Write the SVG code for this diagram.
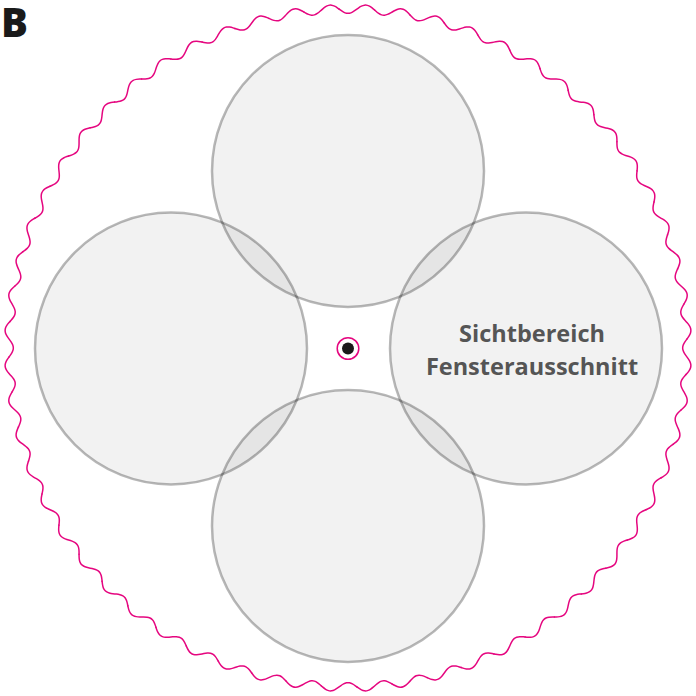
<svg xmlns="http://www.w3.org/2000/svg" xmlns:xlink="http://www.w3.org/1999/xlink" width="696" height="696" viewBox="0 0 696 696">
<style>
.lens{fill:#000;fill-opacity:0.05;stroke:#000;stroke-opacity:0.28;stroke-width:2.5}
.wave{fill:none;stroke:#e5067f;stroke-width:1.5;stroke-linejoin:round;stroke-linecap:round}
.lbl{font-family:"Open Sans","Liberation Sans",sans-serif;font-weight:700;font-size:23.5px;fill:#555555;text-anchor:middle}
.title{font-family:"Open Sans","Liberation Sans",sans-serif;font-weight:800;font-size:40px;fill:#1a1a1a}
</style>
<defs>
<path id="seg" class="wave" d="M330.258,9.465 L331.785,10.518 Q333.311,11.570 334.808,12.336 Q336.305,13.101 337.775,13.358 Q339.244,13.615 340.698,13.282 Q342.152,12.948 343.607,12.106 Q345.061,11.263 346.531,10.132 Q348,9 349.489,7.882 Q350.978,6.763 352.481,5.959 Q353.984,5.155 355.488,4.887 Q356.992,4.618 358.480,4.965 Q359.967,5.312 361.426,6.194 Q362.885,7.075 364.314,8.270 L365.742,9.465"/>
</defs>
<rect width="696" height="696" fill="#ffffff"/>
<text id="label-B" class="title" x="1" y="37">B</text>
<g id="boundary" transform="rotate(1.5 348 348)">
<use xlink:href="#seg" href="#seg"/>
<use href="#seg" transform="rotate(6 348 348)"/>
<use href="#seg" transform="rotate(12 348 348)"/>
<use href="#seg" transform="rotate(18 348 348)"/>
<use href="#seg" transform="rotate(24 348 348)"/>
<use href="#seg" transform="rotate(30 348 348)"/>
<use href="#seg" transform="rotate(36 348 348)"/>
<use href="#seg" transform="rotate(42 348 348)"/>
<use href="#seg" transform="rotate(48 348 348)"/>
<use href="#seg" transform="rotate(54 348 348)"/>
<use href="#seg" transform="rotate(60 348 348)"/>
<use href="#seg" transform="rotate(66 348 348)"/>
<use href="#seg" transform="rotate(72 348 348)"/>
<use href="#seg" transform="rotate(78 348 348)"/>
<use href="#seg" transform="rotate(84 348 348)"/>
<use href="#seg" transform="rotate(90 348 348)"/>
<use href="#seg" transform="rotate(96 348 348)"/>
<use href="#seg" transform="rotate(102 348 348)"/>
<use href="#seg" transform="rotate(108 348 348)"/>
<use href="#seg" transform="rotate(114 348 348)"/>
<use href="#seg" transform="rotate(120 348 348)"/>
<use href="#seg" transform="rotate(126 348 348)"/>
<use href="#seg" transform="rotate(132 348 348)"/>
<use href="#seg" transform="rotate(138 348 348)"/>
<use href="#seg" transform="rotate(144 348 348)"/>
<use href="#seg" transform="rotate(150 348 348)"/>
<use href="#seg" transform="rotate(156 348 348)"/>
<use href="#seg" transform="rotate(162 348 348)"/>
<use href="#seg" transform="rotate(168 348 348)"/>
<use href="#seg" transform="rotate(174 348 348)"/>
<use href="#seg" transform="rotate(180 348 348)"/>
<use href="#seg" transform="rotate(186 348 348)"/>
<use href="#seg" transform="rotate(192 348 348)"/>
<use href="#seg" transform="rotate(198 348 348)"/>
<use href="#seg" transform="rotate(204 348 348)"/>
<use href="#seg" transform="rotate(210 348 348)"/>
<use href="#seg" transform="rotate(216 348 348)"/>
<use href="#seg" transform="rotate(222 348 348)"/>
<use href="#seg" transform="rotate(228 348 348)"/>
<use href="#seg" transform="rotate(234 348 348)"/>
<use href="#seg" transform="rotate(240 348 348)"/>
<use href="#seg" transform="rotate(246 348 348)"/>
<use href="#seg" transform="rotate(252 348 348)"/>
<use href="#seg" transform="rotate(258 348 348)"/>
<use href="#seg" transform="rotate(264 348 348)"/>
<use href="#seg" transform="rotate(270 348 348)"/>
<use href="#seg" transform="rotate(276 348 348)"/>
<use href="#seg" transform="rotate(282 348 348)"/>
<use href="#seg" transform="rotate(288 348 348)"/>
<use href="#seg" transform="rotate(294 348 348)"/>
<use href="#seg" transform="rotate(300 348 348)"/>
<use href="#seg" transform="rotate(306 348 348)"/>
<use href="#seg" transform="rotate(312 348 348)"/>
<use href="#seg" transform="rotate(318 348 348)"/>
<use href="#seg" transform="rotate(324 348 348)"/>
<use href="#seg" transform="rotate(330 348 348)"/>
<use href="#seg" transform="rotate(336 348 348)"/>
<use href="#seg" transform="rotate(342 348 348)"/>
<use href="#seg" transform="rotate(348 348 348)"/>
<use href="#seg" transform="rotate(354 348 348)"/>
</g>
<g id="view-top"><circle class="lens" cx="348" cy="171" r="136"/></g>
<g id="view-left"><circle class="lens" cx="171" cy="348.5" r="136"/></g>
<g id="view-right"><circle class="lens" cx="526" cy="348.5" r="136"/></g>
<g id="view-bottom"><circle class="lens" cx="348" cy="526" r="136"/></g>
<g id="center">
<circle cx="348" cy="348.5" r="10.8" fill="#ffffff" stroke="#e5067f" stroke-width="1.5"/>
<circle cx="348" cy="348.5" r="6" fill="#1a1a1a"/>
</g>
<g id="label">
<text class="lbl" x="532" y="341.5">Sichtbereich</text>
<text class="lbl" x="532" y="375">Fensterausschnitt</text>
</g>
</svg>
